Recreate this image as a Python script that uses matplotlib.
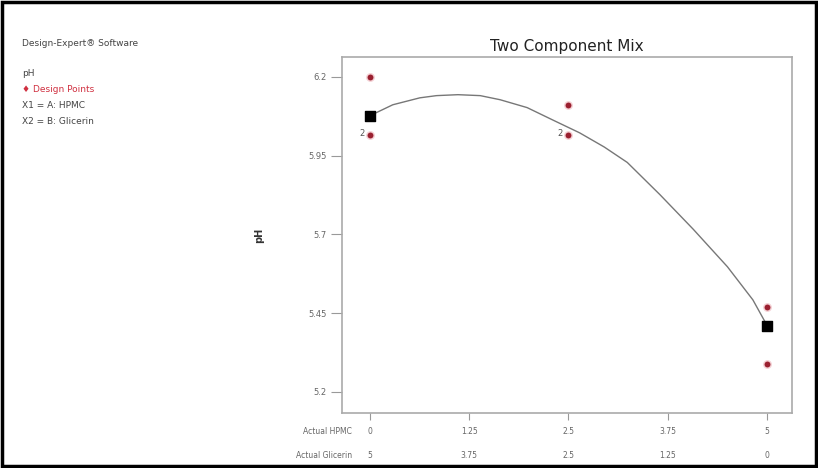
import numpy as np
import matplotlib.pyplot as plt
from matplotlib.patches import Rectangle
from matplotlib.transforms import blended_transform_factory

# design points (HPMC amount, pH)
pts_x = [0, 0, 2.5, 2.5, 5, 5]
pts_y = [6.2, 6.016, 6.111, 6.016, 5.47, 5.289]
# points with replicate label "2"
rep_x = [0, 2.5]
rep_y = [6.016, 6.016]

# prediction curve
curve_x = [0, 0.29, 0.63, 0.84, 1.11, 1.39, 1.64, 1.98, 2.30, 2.64, 2.95,
           3.24, 3.65, 4.07, 4.50, 4.82, 5.0]
curve_y = [6.076, 6.111, 6.133, 6.140, 6.143, 6.140, 6.127, 6.102, 6.063, 6.022, 5.977,
           5.928, 5.826, 5.716, 5.597, 5.492, 5.41]

# end points of the model (black squares)
end_x = [0, 5]
end_y = [6.076, 5.41]

yticks = [5.2, 5.45, 5.7, 5.95, 6.2]
ytick_labels = ['5.2', '5.45', '5.7', '5.95', '6.2']
xticks = [0, 1.25, 2.5, 3.75, 5]
hpmc_labels = ['0', '1.25', '2.5', '3.75', '5']
glicerin_labels = ['5', '3.75', '2.5', '1.25', '0']

fig = plt.figure(figsize=(8.18, 4.68), dpi=100)
fig.patches.append(Rectangle((0.003, 0.004), 0.994, 0.992, transform=fig.transFigure,
                             fill=False, edgecolor='black', linewidth=2.5))

ax = fig.add_axes([0.418, 0.1175, 0.550, 0.761])
ax.set_xlim(-0.35, 5.31)
ax.set_ylim(5.133, 6.263)

ax.plot(curve_x, curve_y, color='#777777', linewidth=1.0)
ax.scatter(pts_x, pts_y, s=40, color='#e8a0a8', alpha=0.5, zorder=3, linewidths=0)
ax.scatter(pts_x, pts_y, s=18, color='#9a2030', zorder=4, linewidths=0)
ax.scatter(end_x, end_y, s=45, marker='s', color='black', zorder=5)
for x, y in zip(rep_x, rep_y):
    ax.text(x - 0.07, y + 0.004, '2', fontsize=6, color='#555555', ha='right', va='center')

ax.set_yticks(yticks)
ax.set_yticklabels(ytick_labels, fontsize=6, color='#666666')
ax.set_xticks(xticks)
ax.set_xticklabels([])
ax.tick_params(axis='y', direction='out', length=8, color='#999999', pad=3)
ax.tick_params(axis='x', direction='out', length=5, color='#999999')
for s in ax.spines.values():
    s.set_color('#aaaaaa')
    s.set_linewidth(1.2)

ax.set_title('Two Component Mix', fontsize=11, color='#222222', pad=4)
ax.set_ylabel('pH', fontsize=7, color='#333333', fontweight='bold', labelpad=32)

trans = blended_transform_factory(ax.transData, fig.transFigure)
for x, l1, l2 in zip(xticks, hpmc_labels, glicerin_labels):
    fig.text(x, 1 - 432 / 468, l1, transform=trans, fontsize=5.5, color='#666666', ha='center', va='center')
    fig.text(x, 1 - 455 / 468, l2, transform=trans, fontsize=5.5, color='#666666', ha='center', va='center')
fig.text(352 / 818, 1 - 432 / 468, 'Actual HPMC', fontsize=5.5, color='#666666', ha='right', va='center')
fig.text(352 / 818, 1 - 455 / 468, 'Actual Glicerin', fontsize=5.5, color='#666666', ha='right', va='center')

fig.text(22 / 818, 1 - 43 / 468, 'Design-Expert® Software', fontsize=6.5, color='#444444', va='center')
fig.text(22 / 818, 1 - 73 / 468, 'pH', fontsize=6.5, color='#444444', va='center')
fig.text(22 / 818, 1 - 89 / 468, '♦ Design Points', fontsize=6.5, color='#d03040', va='center')
fig.text(22 / 818, 1 - 105 / 468, 'X1 = A: HPMC', fontsize=6.5, color='#444444', va='center')
fig.text(22 / 818, 1 - 121 / 468, 'X2 = B: Glicerin', fontsize=6.5, color='#444444', va='center')

fig.savefig('out.png', dpi=100)
